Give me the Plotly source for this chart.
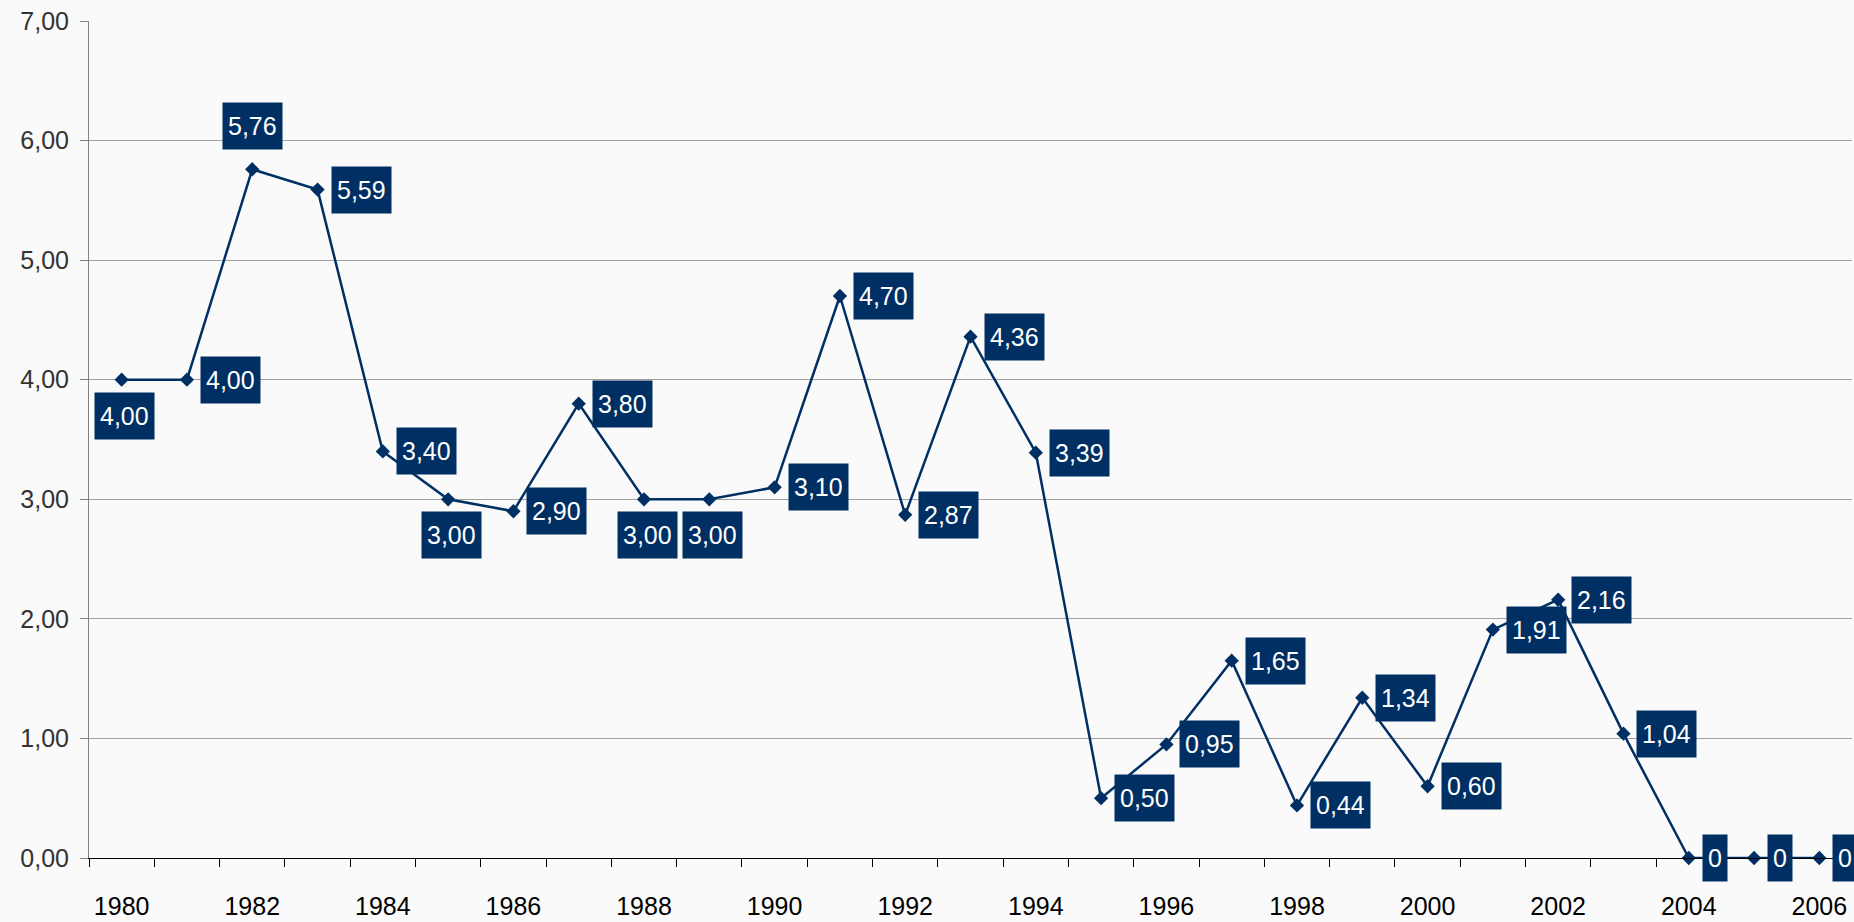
import plotly.graph_objects as go

years = list(range(1980, 2007))
values = [4.00, 4.00, 5.76, 5.59, 3.40, 3.00, 2.90, 3.80, 3.00, 3.00, 3.10, 4.70, 2.87,
          4.36, 3.39, 0.50, 0.95, 1.65, 0.44, 1.34, 0.60, 1.91, 2.16, 1.04, 0.0, 0.0, 0.0]
labels = ["4,00", "4,00", "5,76", "5,59", "3,40", "3,00", "2,90", "3,80", "3,00", "3,00",
          "3,10", "4,70", "2,87", "4,36", "3,39", "0,50", "0,95", "1,65", "0,44", "1,34",
          "0,60", "1,91", "2,16", "1,04", "0", "0", "0"]
y_tickvals = [0, 1, 2, 3, 4, 5, 6, 7]
y_ticktext = ["0,00", "1,00", "2,00", "3,00", "4,00", "5,00", "6,00", "7,00"]
x_tickvals = list(range(1980, 2007, 2))

# label placement per point (style)
placement = ["below", "right", "above", "right", "right", "below", "right", "right", "below",
             "below"] + ["right"] * 17

NAVY = "#003063"
FONT = "Liberation Sans, Arial, sans-serif"

fig = go.Figure()
fig.add_trace(go.Scatter(
    x=years, y=values, mode="lines+markers",
    line=dict(color=NAVY, width=2.5),
    marker=dict(symbol="diamond", size=11, color=NAVY),
    cliponaxis=False, showlegend=False, hoverinfo="skip",
))

for x, y, t, p in zip(years, values, labels, placement):
    a = dict(x=x, y=y, text=t, showarrow=False, bgcolor=NAVY, borderpad=5, height=36,
             valign="middle",
             font=dict(family=FONT, size=25, color="white"))
    if p == "right":
        a.update(xanchor="left", yanchor="middle", xshift=13)
    elif p == "below":
        a.update(xanchor="center", yanchor="top", yshift=-12, xshift=3)
    else:
        a.update(xanchor="center", yanchor="bottom", yshift=19)
    fig.add_annotation(**a)

fig.update_layout(
    width=1854, height=922,
    margin=dict(l=89, r=2, t=21, b=60),
    paper_bgcolor="#fafafa", plot_bgcolor="#fafafa",
    font=dict(family=FONT, size=25, color="#000000"),
)
fig.update_xaxes(
    range=[1979.5, 2006.5], tickvals=x_tickvals, ticktext=[str(v) for v in x_tickvals],
    ticks="", showgrid=False, zeroline=False,
    showline=True, linecolor="#000000", linewidth=1,
    tickfont=dict(size=25, color="#000000"), ticklabelstandoff=26,
    minor=dict(ticks="outside", ticklen=8, tickcolor="#000000", tick0=1979.5, dtick=1,
               showgrid=False),
)
fig.update_yaxes(
    range=[0, 7], tickvals=y_tickvals, ticktext=y_ticktext,
    ticks="outside", ticklen=8, tickcolor="#808080",
    showgrid=True, gridcolor="#a0a0a0", gridwidth=1, zeroline=False,
    showline=True, linecolor="#808080", linewidth=1,
    tickfont=dict(size=25, color="#333333"), ticklabelstandoff=6,
)

fig.write_html("out.html", post_script="document.body.style.margin='0';",
               config={"displayModeBar": False})
